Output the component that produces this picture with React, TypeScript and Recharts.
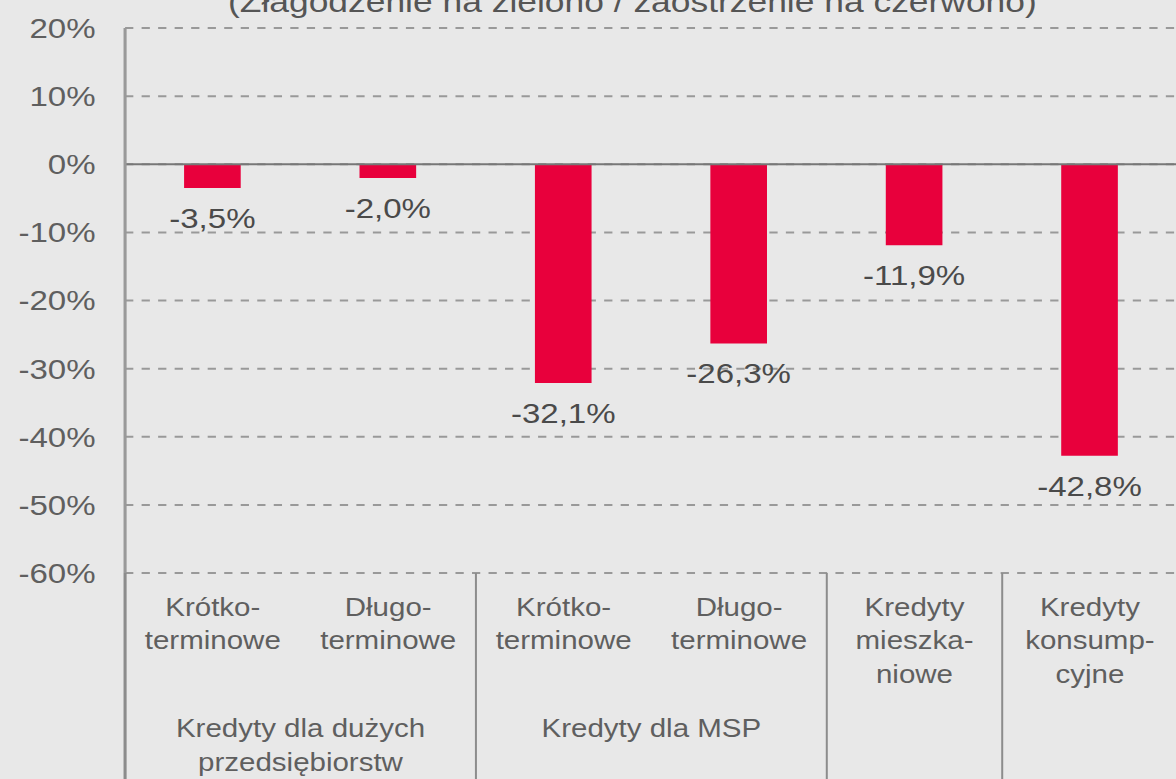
import React from 'react';
import { BarChart, Bar, XAxis, YAxis, CartesianGrid, ReferenceLine, LabelList } from 'recharts';

// ---- data ----
const categories = [
  'Krótko-\nterminowe',
  'Długo-\nterminowe',
  'Krótko-\nterminowe',
  'Długo-\nterminowe',
  'Kredyty\nmieszka-\nniowe',
  'Kredyty\nkonsump-\ncyjne',
];
const groupOf = [0, 0, 1, 1, 2, 3];
const groupLabels = ['Kredyty dla dużych\nprzedsiębiorstw', 'Kredyty dla MSP', '', ''];
const values = [-3.5, -2.0, -32.1, -26.3, -11.9, -42.8];
const yTicks = [20, 10, 0, -10, -20, -30, -40, -50, -60];
const title = '(Złagodzenie na zielono / zaostrzenie na czerwono)';

const data = categories.map((c, i) => ({ key: 'c' + i, label: c, value: values[i] }));

// ---- styles ----
const S = 1.18; // horizontal stretch of the original picture
const FONT = '"Liberation Sans", Arial, Helvetica, sans-serif';
const BG = '#e8e8e8';
const BAR = '#e8003c';
const TXT = '#5f5f5f';

const fmt = (v: number) => v.toFixed(1).replace('.', ',') + '%';

function CategoryTick(props: any) {
  const { x, y, payload, index } = props;
  const i: number = typeof index === 'number' ? index : 0;
  const half: number = payload && payload.offset ? payload.offset : 74.3;
  const lines = categories[i].split('\n');
  const g = groupOf[i];
  const first = i === 0 || groupOf[i - 1] !== g;
  const count = groupOf.filter((v) => v === g).length;
  const gx = x - half + count * half;
  const gLines = groupLabels[g] ? groupLabels[g].split('\n') : [];
  return (
    <g>
      {lines.map((l, k) => (
        <text
          key={k}
          x={x}
          y={y + 34 + k * 33.5}
          textAnchor="middle"
          dominantBaseline="central"
          fontSize={25}
          fontFamily={FONT}
          fill={TXT}
        >
          {l}
        </text>
      ))}
      {first && (
        <line x1={x - half} x2={x - half} y1={y} y2={y + 260} stroke="#8c8c8c" strokeWidth={i === 0 ? 2.6 : 1.7} />
      )}
      {first &&
        gLines.map((l, k) => (
          <text
            key={'g' + k}
            x={gx}
            y={y + 155 + k * 34}
            textAnchor="middle"
            dominantBaseline="central"
            fontSize={25}
            fontFamily={FONT}
            fill={TXT}
          >
            {l}
          </text>
        ))}
    </g>
  );
}

const renderLabel = (p: any) => {
  const x = Number(p.x);
  const y = Number(p.y);
  const w = Number(p.width);
  const h = Number(p.height);
  const bottom = Math.max(y, y + h);
  return (
    <text
      x={x + w / 2}
      y={bottom + 30}
      textAnchor="middle"
      dominantBaseline="central"
      fontSize={28}
      fontFamily={FONT}
      fill="#4a4a4a"
    >
      {fmt(Number(p.value))}
    </text>
  );
};

export default function App() {
  return (
    <div
      style={{
        position: 'absolute',
        left: 0,
        top: 0,
        width: 1176,
        height: 779,
        overflow: 'hidden',
        background: BG,
        fontFamily: FONT,
      }}
    >
      <div
        style={{
          position: 'relative',
          width: 1000,
          height: 820,
          transform: `scaleX(${S})`,
          transformOrigin: '0 0',
        }}
      >
        <div
          style={{
            position: 'absolute',
            left: 228 / S,
            top: -13,
            fontSize: 30,
            lineHeight: '30px',
            color: '#555',
            whiteSpace: 'nowrap',
          }}
        >
          {title}
        </div>
        <BarChart
          width={1000}
          height={820}
          data={data}
          margin={{ top: 28, right: 2, bottom: 0, left: 0 }}
        >
          <CartesianGrid vertical={false} stroke="#999" strokeWidth={2} strokeDasharray="7 7" />
          <XAxis
            dataKey="key"
            height={247}
            axisLine={false}
            tickLine={false}
            tickSize={0}
            tickMargin={0}
            interval={0}
            tick={<CategoryTick />}
          />
          <YAxis
            width={106}
            domain={[-60, 20]}
            ticks={yTicks}
            allowDataOverflow
            tickFormatter={(v: number) => v + '%'}
            tickLine={false}
            tickSize={0}
            tickMargin={25}
            axisLine={{ stroke: '#999', strokeWidth: 2.6 }}
            tick={{ fontSize: 28, fill: TXT, fontFamily: FONT }}
          />
          <ReferenceLine y={0} stroke="#777" strokeWidth={2} />
          <Bar dataKey="value" fill={BAR} barSize={48} isAnimationActive={false}>
            <LabelList dataKey="value" content={renderLabel} />
          </Bar>
        </BarChart>
      </div>
    </div>
  );
}
